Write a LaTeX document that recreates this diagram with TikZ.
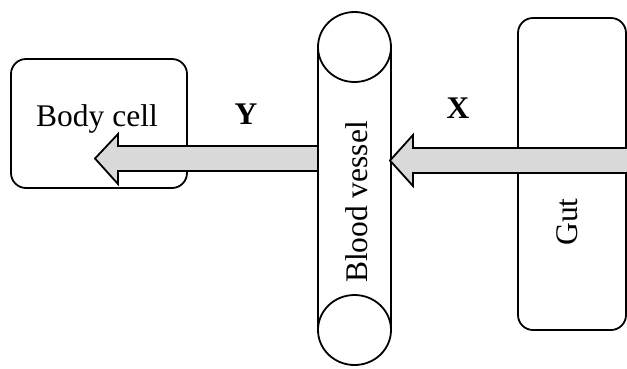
\documentclass[tikz,border=0pt]{standalone}
\usepackage{fontspec}
\setmainfont{Liberation Serif}
\definecolor{arrowgray}{HTML}{D9D9D9}
\begin{document}
\begin{tikzpicture}[x=1pt,y=-1pt,
  line width=1.8pt,
  boxshape/.style={draw, rounded corners=15pt, inner sep=0pt},
  lbl/.style={inner sep=0pt, font=\fontsize{31.5}{36}\selectfont},
  bigarrow/.style={draw, fill=arrowgray, line join=miter}]
\useasboundingbox (0,0) rectangle (627,368);
% boxes
\node[boxshape, minimum width=176pt, minimum height=129pt] (body) at (99,123.5) {};
\node[boxshape, minimum width=108pt, minimum height=312pt] (gut) at (572,174) {};
% blood vessel cylinder
\coordinate (vtl) at (318,47);
\coordinate (vtr) at (391,47);
\coordinate (vbl) at (318,330);
\coordinate (vbr) at (391,330);
\draw (vtl) -- (vbl);
\draw (vtr) -- (vbr);
\draw (354.5,47) ellipse [x radius=36.5pt, y radius=35pt];
\draw (354.5,330) ellipse [x radius=36.5pt, y radius=35pt];
% arrows
\draw[bigarrow] (318,146) -- (118,146) -- (118,134) -- (95,158.5) -- (118,184) -- (118,171) -- (318,171) -- cycle;
\draw[bigarrow] (628,148) -- (413,148) -- (413,135) -- (390,160.5) -- (413,186) -- (413,173) -- (628,173);
% labels
\node[lbl] (bodytxt) at (97,119) {Body cell};
\node[lbl, rotate=90] (vesseltxt) at (357,202) {Blood vessel};
\node[lbl, rotate=90] (guttxt) at (567,222) {Gut};
\node[lbl, font=\fontsize{31.5}{36}\selectfont\bfseries] (Y) at (246,114) {Y};
\node[lbl, font=\fontsize{31.5}{36}\selectfont\bfseries] (X) at (458,108) {X};
\end{tikzpicture}
\end{document}
